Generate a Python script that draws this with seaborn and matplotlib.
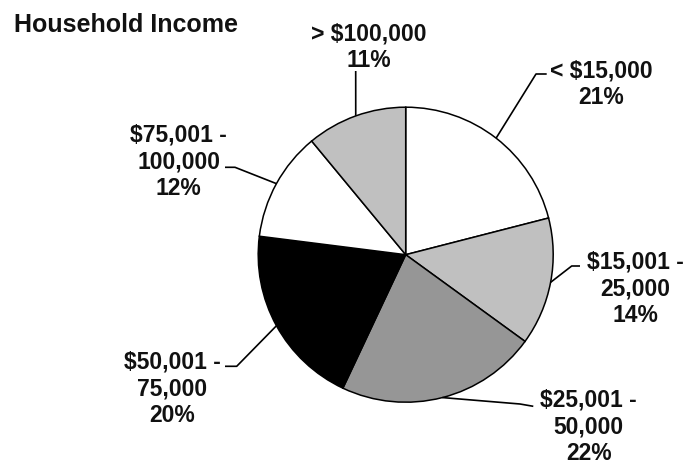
import numpy as np
import matplotlib
matplotlib.use("Agg")
import matplotlib.pyplot as plt
import seaborn as sns

# household income brackets, clockwise from 12 o'clock
brackets = ["< $15,000", "$15,001 -\n25,000", "$25,001 -\n50,000",
            "$50,001 -\n75,000", "$75,001 -\n100,000", "> $100,000"]
shares = [21, 14, 22, 20, 12, 11]
colors = ["#ffffff", "#c0c0c0", "#969696", "#000000", "#ffffff", "#c0c0c0"]

# label layout in image pixels (x centre, last-line baseline) and leader bends
label_pos = [(601.5, 104), (635, 321.7), (588.8, 460),
             (172, 422), (178.5, 195), (368.7, 66.7)]
leader_pts = [[(536, 75), (546.7, 75)],
              [(571.7, 267), (580, 267)],
              [(520, 405), (533.3, 407.3)],
              [(236.7, 367.3), (225, 367.3)],
              [(235, 168.3), (225, 168.3)],
              [(355.7, 72)]]

sns.set_theme(style="white")
plt.rcParams["font.family"] = ["Liberation Sans", "DejaVu Sans"]

W, H = 687, 464
fig = plt.figure(figsize=(W / 100, H / 100), dpi=100)
ax = fig.add_axes([0, 0, 1, 1])

cx, cy, r = 405.7, H - 255.7, 147.5
wedges, _ = ax.pie(shares, colors=colors, startangle=90, counterclock=False,
                   center=(cx, cy), radius=r, frame=True,
                   wedgeprops=dict(edgecolor="black", linewidth=1.1))
ax.set_xlim(0, W)
ax.set_ylim(0, H)
ax.set_aspect("equal")
ax.axis("off")

for w, name, pct, (tx, ty), pts in zip(wedges, brackets, shares, label_pos, leader_pts):
    mid = np.deg2rad((w.theta1 + w.theta2) / 2)
    ex, ey = cx + r * np.cos(mid), cy + r * np.sin(mid)
    xs = [ex] + [p[0] for p in pts]
    ys = [ey] + [H - p[1] for p in pts]
    ax.plot(xs, ys, color="black", linewidth=1.2, solid_capstyle="butt")
    ax.text(tx, H - ty, f"{name}\n{pct}%", ha="center", va="baseline",
            fontsize=16.5, fontweight="bold", linespacing=1.2, color="#111111")

ax.text(14, H - 32, "Household Income", ha="left", va="baseline",
        fontsize=18, fontweight="bold", color="#111111")

fig.savefig("out.png", dpi=100, facecolor="white")
